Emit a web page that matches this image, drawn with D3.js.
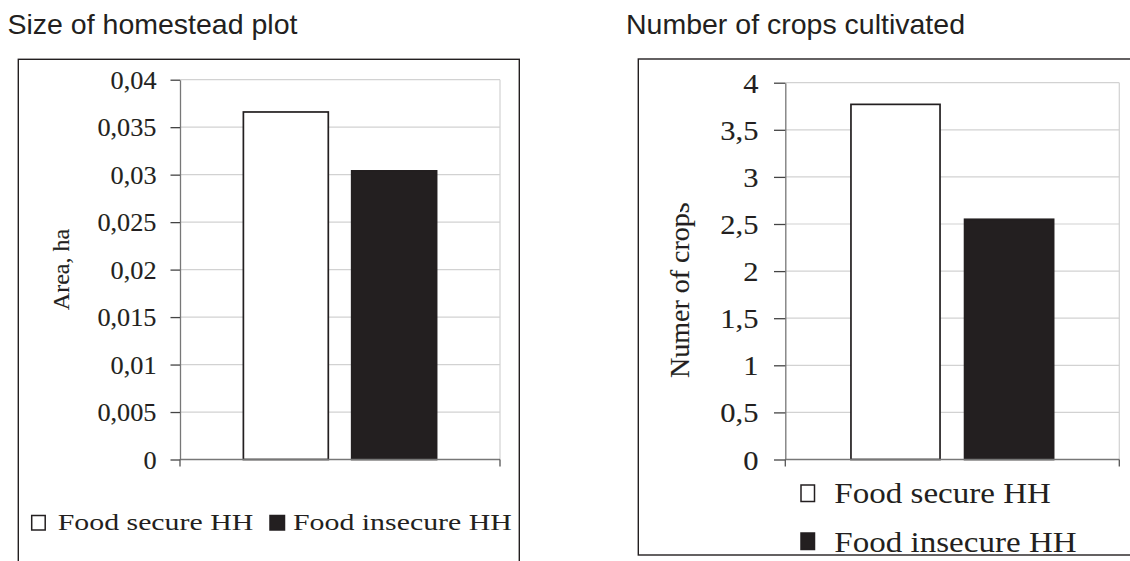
<!DOCTYPE html>
<html><head><meta charset="utf-8">
<script src="https://cdn.jsdelivr.net/npm/d3@7"></script>
<style>
html,body{margin:0;padding:0;background:#fff;}
svg{display:block;}
</style></head>
<body>
<svg id="chart" width="1130" height="561"></svg>
<script>
// ---- data ----
const seriesNames = ["Food secure HH", "Food insecure HH"];
const seriesFills = ["#ffffff", "#231f20"];
const chartTitles = ["Size of homestead plot", "Number of crops cultivated"];
const yAxisLabels = ["Area, ha", "Numer of crops"];
const areaValues = [0.0366, 0.0304];
const cropValues = [3.77, 2.55];
const areaTicks = [0, 0.005, 0.01, 0.015, 0.02, 0.025, 0.03, 0.035, 0.04];
const areaTickLabels = ["0", "0,005", "0,01", "0,015", "0,02", "0,025", "0,03", "0,035", "0,04"];
const cropTicks = [0, 0.5, 1, 1.5, 2, 2.5, 3, 3.5, 4];
const cropTickLabels = ["0", "0,5", "1", "1,5", "2", "2,5", "3", "3,5", "4"];

const INK = "#231f20";
const SERIF = "'Liberation Serif','Times New Roman',serif";
const SANS = "'Liberation Sans',Arial,sans-serif";
const svg = d3.select("#chart");

function stretch(sel, k) {
  if (k === 1) return;
  sel.each(function () {
    const w = this.getComputedTextLength();
    d3.select(this).attr("textLength", w * k).attr("lengthAdjust", "spacingAndGlyphs");
  });
}
function heavy(sel, w) {
  sel.attr("stroke", INK).attr("stroke-width", w);
}

function drawPanel(cfg) {
  const g = svg.append("g");
  // frame
  g.append("rect").attr("x", cfg.frame[0]).attr("y", cfg.frame[1])
    .attr("width", cfg.frame[2]).attr("height", cfg.frame[3])
    .attr("fill", "none").attr("stroke", INK).attr("stroke-width", 1.4);
  // title
  g.append("text").attr("x", cfg.titleX).attr("y", 33.5)
    .attr("font-family", SANS).attr("font-size", 28.5).attr("fill", INK)
    .text(cfg.title);

  const y = d3.scaleLinear().domain(cfg.domain).range([cfg.y0, cfg.y1]);
  const x0 = d3.scaleBand().domain(["all"]).range([cfg.x0, cfg.x1])
    .paddingInner(0).paddingOuter(cfg.outerPad);
  const xs = d3.scaleBand().domain(seriesNames).range([0, x0.bandwidth()])
    .paddingInner(0.216).paddingOuter(0);

  // gridlines
  g.append("g").selectAll("line").data(cfg.ticks.filter(t => t > 0)).join("line")
    .attr("x1", cfg.x0).attr("x2", cfg.x1)
    .attr("y1", d => y(d)).attr("y2", d => y(d))
    .attr("stroke", "#d2d2d2").attr("stroke-width", 1.2);
  g.append("line").attr("x1", cfg.x1).attr("x2", cfg.x1)
    .attr("y1", y(cfg.domain[1])).attr("y2", cfg.y0)
    .attr("stroke", "#d2d2d2").attr("stroke-width", 1.2);

  // bars
  g.append("g").selectAll("rect").data(cfg.values).join("rect")
    .attr("x", (d, i) => x0("all") + xs(seriesNames[i]))
    .attr("width", xs.bandwidth())
    .attr("y", d => y(d))
    .attr("height", d => y(0) - y(d))
    .attr("fill", (d, i) => seriesFills[i])
    .attr("stroke", INK).attr("stroke-width", 1.7);

  // y axis
  const ax = g.append("g").attr("transform", `translate(${cfg.x0},0)`)
    .call(d3.axisLeft(y).tickValues(cfg.ticks)
      .tickFormat((d, i) => cfg.tickLabels[i])
      .tickSize(cfg.tickSize).tickSizeOuter(0).tickPadding(cfg.tickPad));
  ax.attr("font-family", SERIF).attr("font-size", cfg.tickFont);
  ax.select(".domain").attr("stroke", "#777").attr("stroke-width", 1.3);
  ax.selectAll(".tick line").attr("stroke", "#444").attr("stroke-width", 1.3);
  ax.selectAll(".tick text").attr("font-family", SERIF).attr("font-size", cfg.tickFont)
    .attr("fill", INK).attr("dy", "0.34em");
  heavy(ax.selectAll(".tick text"), 0.12);
  stretch(ax.selectAll(".tick text"), cfg.tickStretch);

  // x axis
  g.append("line").attr("x1", cfg.x0).attr("x2", cfg.x1).attr("y1", y(0)).attr("y2", y(0))
    .attr("stroke", "#777").attr("stroke-width", 1.3);
  g.append("g").selectAll("line").data([cfg.x0, cfg.x1]).join("line")
    .attr("x1", d => d).attr("x2", d => d).attr("y1", y(0)).attr("y2", y(0) + 7)
    .attr("stroke", "#555").attr("stroke-width", 1.3);

  // y label
  const labG = g.append("g");
  if (cfg.labelClip) labG.attr("clip-path", `url(#${cfg.labelClip})`);
  const lab = labG.append("text")
    .attr("transform", `translate(${cfg.labelX},${cfg.labelY}) rotate(-90)`)
    .attr("text-anchor", cfg.labelAnchor)
    .attr("font-family", SERIF).attr("font-size", cfg.labelFont).attr("fill", INK)
    .text(cfg.yLabel);
  heavy(lab, 0.12);

  // legend
  const lg = g.append("g");
  cfg.legend.forEach((L, i) => {
    lg.append("rect").attr("x", L.sx).attr("y", L.sy).attr("width", L.sw).attr("height", L.sh)
      .attr("fill", seriesFills[i]).attr("stroke", INK).attr("stroke-width", 1.5);
    const t = lg.append("text").attr("x", L.tx).attr("y", L.ty)
      .attr("font-family", SERIF).attr("font-size", cfg.legendFont).attr("fill", INK)
      .text(seriesNames[i]);
    stretch(t, cfg.legendStretch);
  });
}

// clip path for the cut-off right y label
const defs = svg.append("defs");
const cp = defs.append("clipPath").attr("id", "labClip");
cp.append("rect").attr("x", 600).attr("y", 212).attr("width", 160).attr("height", 400);
cp.append("rect").attr("x", 680).attr("y", 150).attr("width", 80).attr("height", 70);

drawPanel({
  title: chartTitles[0], titleX: 7.5,
  frame: [18.3, 59.3, 501, 620],
  domain: [0, 0.04], y0: 459.5, y1: 79.7,
  x0: 180, x1: 500, outerPad: 0.328,
  values: areaValues, ticks: areaTicks, tickLabels: areaTickLabels,
  tickSize: 9.5, tickPad: 14, tickFont: 25.5, tickStretch: 1.03,
  yLabel: yAxisLabels[0], labelX: 69, labelY: 269.5, labelAnchor: "middle", labelFont: 24,
  legendFont: 23.5, legendStretch: 1.27,
  legend: [
    { sx: 31.7, sy: 515.5, sw: 13.5, sh: 14.5, tx: 57.7, ty: 530 },
    { sx: 270, sy: 515.5, sw: 14.5, sh: 14.5, tx: 293, ty: 530 }
  ]
});

drawPanel({
  title: chartTitles[1], titleX: 626,
  frame: [638.3, 59, 620, 496],
  domain: [0, 4], y0: 459.5, y1: 82.7,
  x0: 785.3, x1: 1119.3, outerPad: 0.324,
  values: cropValues, ticks: cropTicks, tickLabels: cropTickLabels,
  tickSize: 11.3, tickPad: 15.5, tickFont: 28, tickStretch: 1.09,
  yLabel: yAxisLabels[1], labelX: 689, labelY: 378, labelAnchor: "start", labelFont: 28,
  labelClip: "labClip",
  legendFont: 29, legendStretch: 1.14,
  legend: [
    { sx: 801, sy: 485, sw: 13.5, sh: 16.5, tx: 834.3, ty: 503 },
    { sx: 801, sy: 533, sw: 13.5, sh: 16.5, tx: 834.3, ty: 551.5 }
  ]
});
</script>
</body></html>
